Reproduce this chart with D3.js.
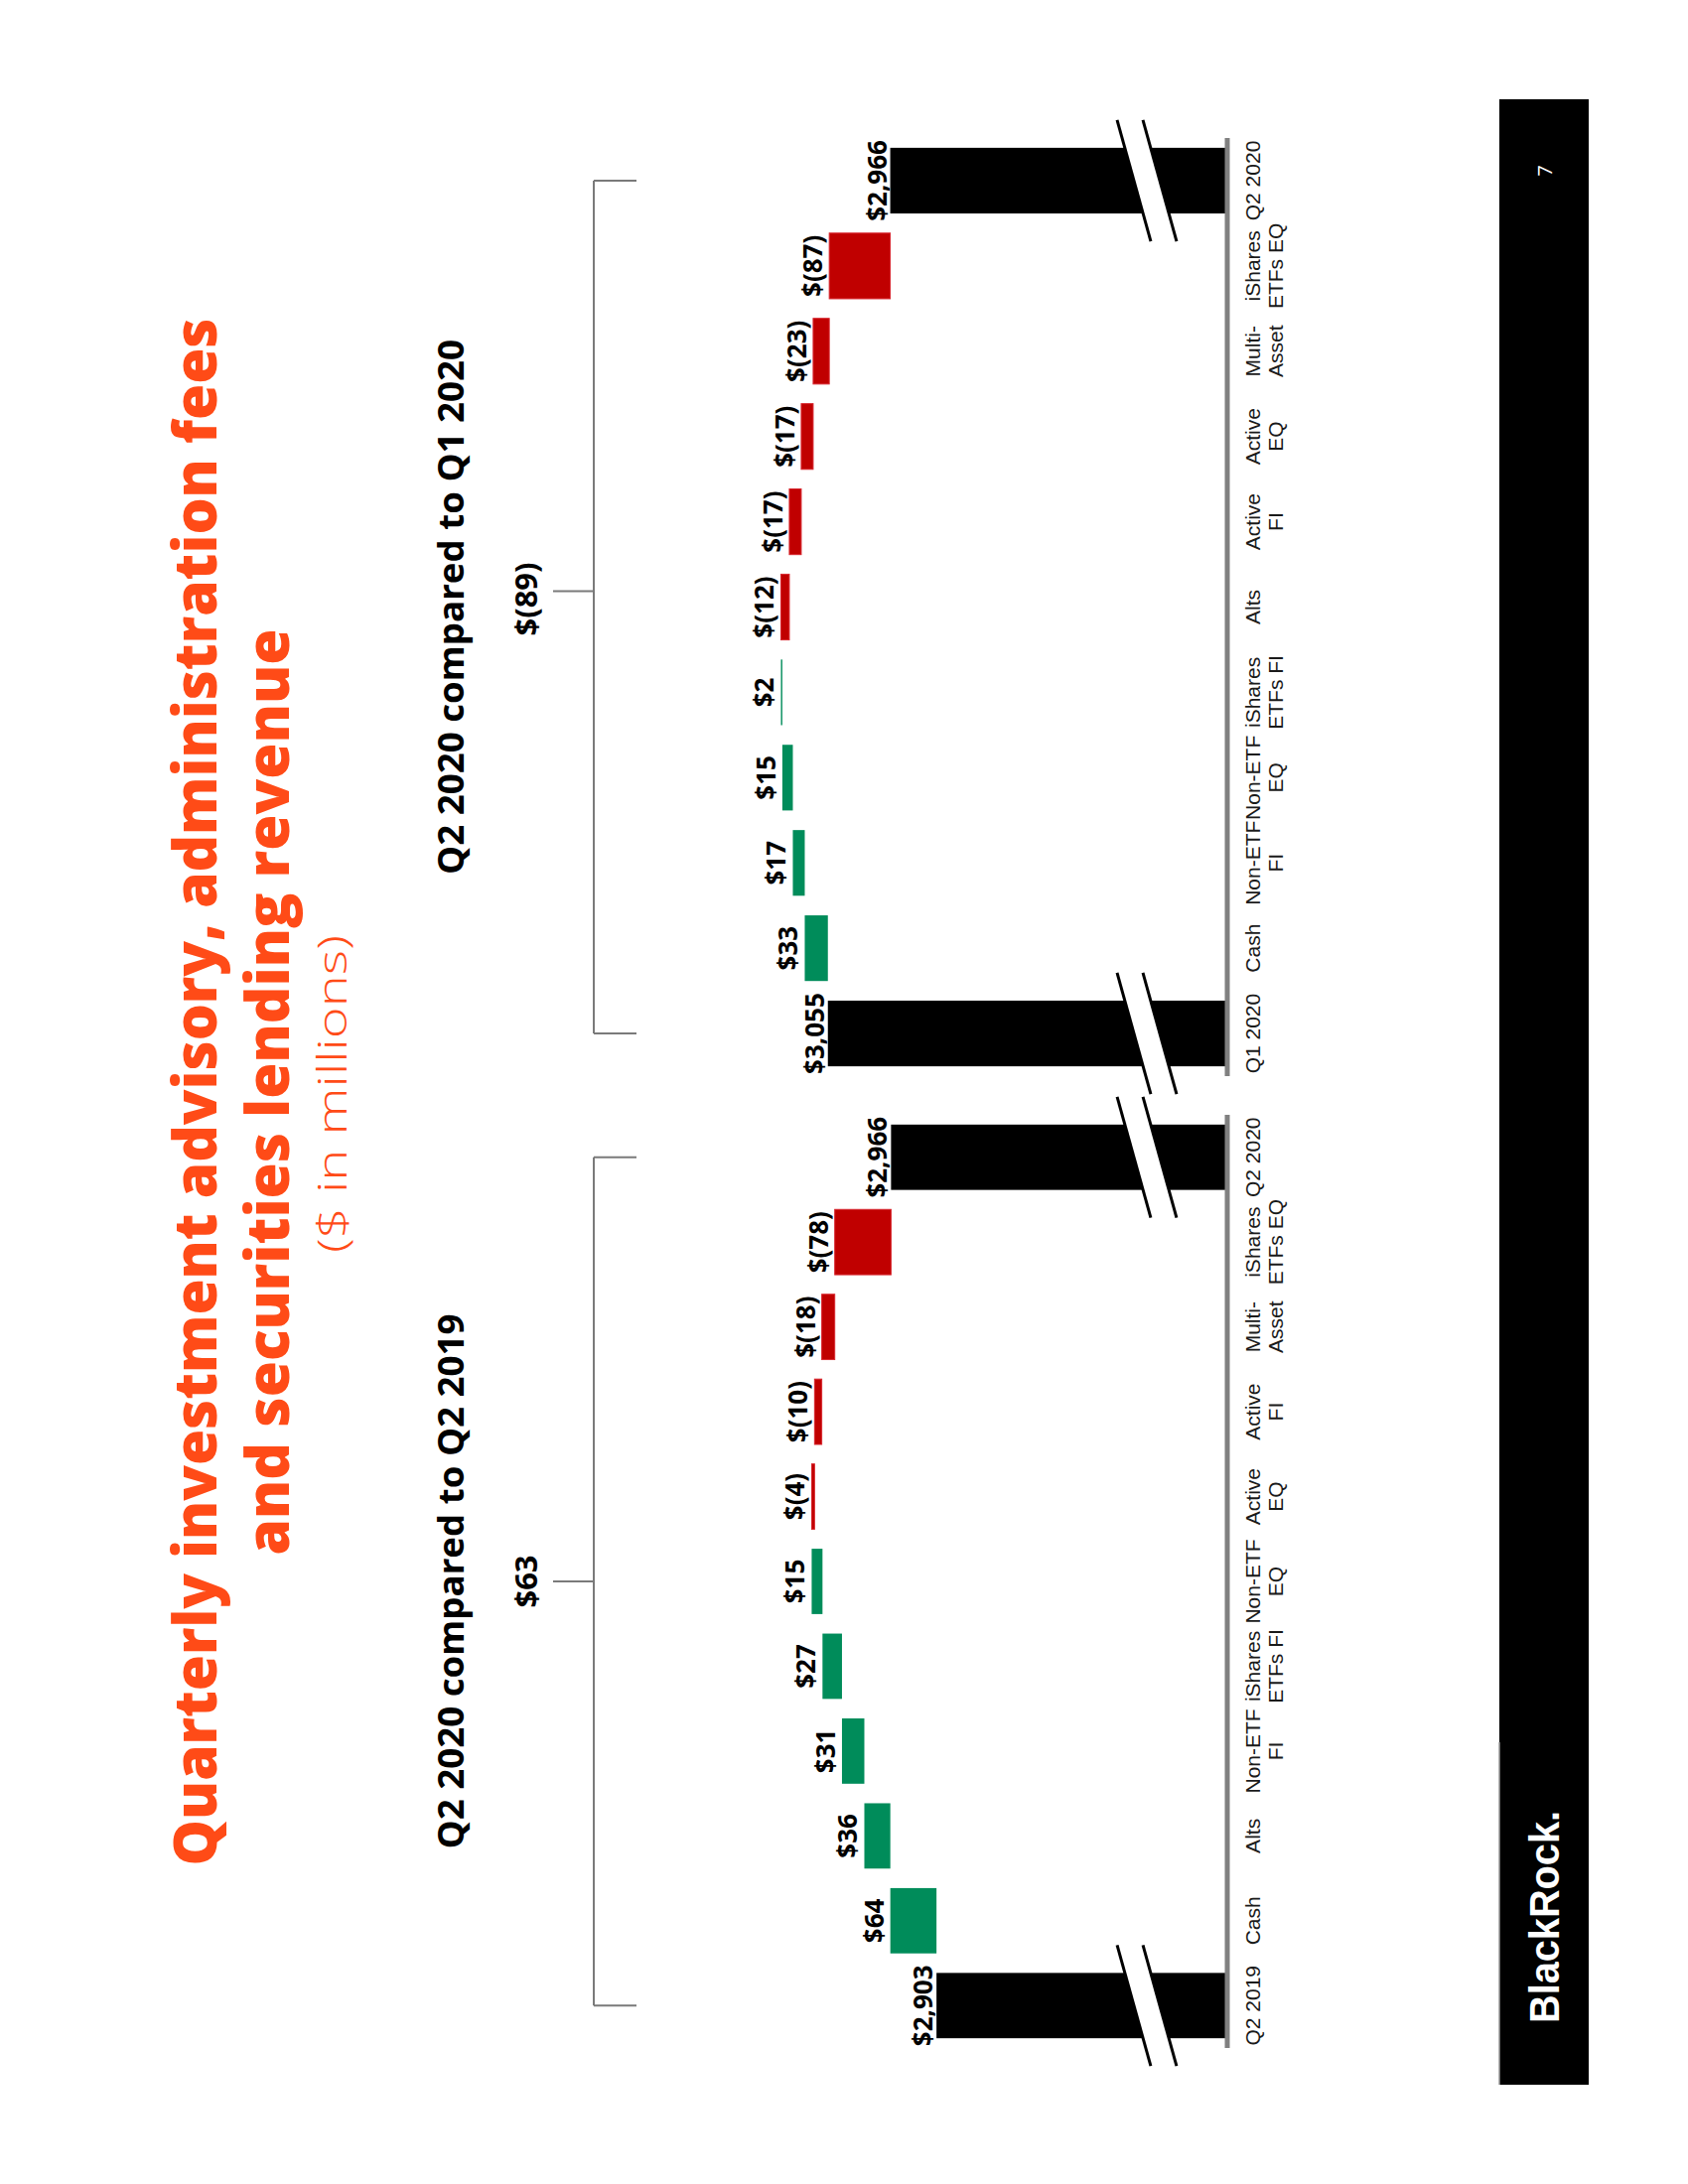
<!DOCTYPE html>
<html><head><meta charset="utf-8">
<script src="https://cdn.jsdelivr.net/npm/d3@7"></script>
<style>body{margin:0;background:#fff}</style>
</head><body><svg id="c" width="1700" height="2200"></svg>
<script>
// ---------- data ----------
const titleLines = ["Quarterly investment advisory, administration fees", "and securities lending revenue"];
const subtitle = "($ in millions)";
const leftHeader = "Q2 2020 compared to Q2 2019";
const rightHeader = "Q2 2020 compared to Q1 2020";
const leftCategories = [["Q2 2019"],["Cash"],["Alts"],["Non-ETF","FI"],["iShares","ETFs FI"],["Non-ETF","EQ"],["Active","EQ"],["Active","FI"],["Multi-","Asset"],["iShares","ETFs EQ"],["Q2 2020"]];
const leftStart = 2903;
const leftDeltas = [64, 36, 31, 27, 15, -4, -10, -18, -78];
const leftEnd = 2966;
const leftChange = 63;
const rightCategories = [["Q1 2020"],["Cash"],["Non-ETF","FI"],["Non-ETF","EQ"],["iShares","ETFs FI"],["Alts"],["Active","FI"],["Active","EQ"],["Multi-","Asset"],["iShares","ETFs EQ"],["Q2 2020"]];
const rightStart = 3055;
const rightDeltas = [33, 17, 15, 2, -12, -17, -17, -23, -87];
const rightEnd = 2966;
const rightChange = -89;
const leftAxisDomain = [2500, 3100];
const rightAxisDomain = [2485, 3100];
const brandName = "BlackRock.";
const pageNumber = "7";

// ---------- styles ----------
const ORANGE = "#ff4b17", GREEN = "#008c5a", RED = "#c00000", GRAY = "#808080";

const svg = d3.select("#c");
svg.append("rect").attr("width",1700).attr("height",2200).attr("fill","#fff");
// landscape slide, rotated onto the portrait page
const slide = svg.append("g").attr("transform","translate(0,2200) rotate(-90)");

// title
slide.append("text").attr("x",1100).attr("y",218).attr("text-anchor","middle")
  .attr("font-family","'Open Sans', sans-serif").attr("font-weight",800).attr("font-size",61)
  .attr("fill",ORANGE).attr("textLength",1559).attr("lengthAdjust","spacingAndGlyphs").text(titleLines[0]);
slide.append("text").attr("x",1100).attr("y",291).attr("text-anchor","middle")
  .attr("font-family","'Open Sans', sans-serif").attr("font-weight",800).attr("font-size",61)
  .attr("fill",ORANGE).attr("textLength",933).attr("lengthAdjust","spacingAndGlyphs").text(titleLines[1]);
slide.append("text").attr("x",1098).attr("y",349).attr("text-anchor","middle")
  .attr("font-family","'Open Sans', sans-serif").attr("font-weight",300).attr("font-size",40)
  .attr("fill",ORANGE).attr("textLength",320).attr("lengthAdjust","spacingAndGlyphs").text(subtitle);

const fmtTotal = v => "$" + d3.format(",")(v);
const fmtDelta = v => v >= 0 ? "$" + v : "$(" + (-v) + ")";

const AXIS_V = 1236;

function drawChart(cats, start, deltas, end, change, domain, bandRange, topPx, header, tickShift) {
  const g = slide.append("g");
  const x = d3.scaleBand().domain(d3.range(cats.length)).range(bandRange)
    .paddingInner(0.23).paddingOuter(0.115);
  const y = d3.scaleLinear().domain(domain).range([AXIS_V, topPx]);

  // build waterfall rows
  const rows = [];
  rows.push({i:0, lo:domain[0], hi:start, color:"#000", label:fmtTotal(start), total:true});
  let cum = start;
  deltas.forEach((d,k) => {
    const a = cum, b = cum + d;
    rows.push({i:k+1, lo:Math.min(a,b), hi:Math.max(a,b), color: d >= 0 ? GREEN : RED, label:fmtDelta(d), total:false, neg:d<0});
    cum = b;
  });
  rows.push({i:cats.length-1, lo:domain[0], hi:end, color:"#000", label:fmtTotal(end), total:true});

  // bars
  g.selectAll("rect.bar").data(rows).join("rect").attr("class","bar")
    .attr("x", d => x(d.i)).attr("width", x.bandwidth())
    .attr("y", d => y(d.hi)).attr("height", d => Math.max(1.2, y(d.lo) - y(d.hi)))
    .attr("fill", d => d.color)
    .attr("stroke", d => d.neg ? "#d8262e" : "none").attr("stroke-width", 1);

  // breaks on total bars
  const s = 0.278, v1 = 1142, v2 = 1168;
  rows.filter(d => d.total).forEach(d => {
    const uc = x(d.i) + x.bandwidth()/2, L = x.bandwidth()/2 + 28;
    g.append("polygon").attr("points", [
      [uc+L, v1 - s*L], [uc+L, v2 - s*L], [uc-L, v2 + s*L], [uc-L, v1 + s*L]].map(p=>p.join(",")).join(" "))
      .attr("fill","#fff");
    [v1, v2].forEach(v => g.append("line")
      .attr("x1", uc+L).attr("y1", v - s*L).attr("x2", uc-L).attr("y2", v + s*L)
      .attr("stroke","#000").attr("stroke-width",3));
  });

  // axis line
  g.append("line").attr("x1", bandRange[0]).attr("x2", bandRange[1])
    .attr("y1", AXIS_V).attr("y2", AXIS_V).attr("stroke", GRAY).attr("stroke-width", 5);

  // value labels
  g.selectAll("text.val").data(rows).join("text").attr("class","val")
    .attr("x", d => x(d.i) + x.bandwidth()/2).attr("y", d => y(d.hi) - (d.total ? 4 : 7))
    .attr("text-anchor","middle").attr("font-family","'Open Sans', sans-serif")
    .attr("font-weight",700).attr("font-size",26).attr("fill","#000").text(d => d.label);

  // category labels
  cats.forEach((lines, i) => {
    const t = g.append("text").attr("text-anchor","middle")
      .attr("font-family","'Liberation Sans', Arial, sans-serif").attr("font-size",21).attr("fill","#1a1a1a");
    lines.forEach((ln, j) => t.append("tspan").attr("x", x(i) + x.bandwidth()/2).attr("y", 1269 + j*23).text(ln));
  });

  // bracket
  const u0 = x(0) + x.bandwidth()/2, u1 = x(cats.length-1) + x.bandwidth()/2, um = (u0+u1)/2;
  const bk = g.append("g").attr("stroke","#7a7a7a").attr("stroke-width",2).attr("fill","none");
  bk.append("line").attr("x1",u0).attr("x2",u1).attr("y1",598).attr("y2",598);
  bk.append("line").attr("x1",u0).attr("x2",u0).attr("y1",598).attr("y2",641);
  bk.append("line").attr("x1",u1).attr("x2",u1).attr("y1",598).attr("y2",641);
  bk.append("line").attr("x1",um + tickShift).attr("x2",um + tickShift).attr("y1",557).attr("y2",598);

  g.append("text").attr("x",um + tickShift/2).attr("y",541).attr("text-anchor","middle")
    .attr("font-family","'Open Sans', sans-serif").attr("font-weight",700).attr("font-size",31)
    .attr("fill","#000").text(fmtDelta(change));
  g.append("text").attr("x",um).attr("y",467).attr("text-anchor","middle")
    .attr("font-family","'Open Sans', sans-serif").attr("font-weight",700).attr("font-size",35)
    .attr("fill","#000").attr("textLength",539).attr("lengthAdjust","spacingAndGlyphs").text(header);
}

drawChart(leftCategories, leftStart, leftDeltas, leftEnd, leftChange, leftAxisDomain, [137, 1077], 800, leftHeader, 0);
drawChart(rightCategories, rightStart, rightDeltas, rightEnd, rightChange, rightAxisDomain, [1116, 2061], 802, rightHeader, 16);

// footer
slide.append("rect").attr("x",100).attr("y",1510).attr("width",2000).attr("height",90).attr("fill","#000");
slide.append("line").attr("x1",100).attr("x2",445).attr("y1",1510).attr("y2",1510).attr("stroke","#9a9a9a").attr("stroke-width",1.5);
slide.append("text").attr("x",162).attr("y",1570)
  .attr("font-family","'Liberation Sans', Arial, sans-serif").attr("font-weight",700).attr("font-size",42)
  .attr("fill","#fff").attr("textLength",214).attr("lengthAdjust","spacingAndGlyphs").text(brandName);
slide.append("text").attr("x",2028).attr("y",1563).attr("text-anchor","middle")
  .attr("font-family","'Open Sans', sans-serif").attr("font-size",20).attr("fill","#fff").text(pageNumber);
</script></body></html>
